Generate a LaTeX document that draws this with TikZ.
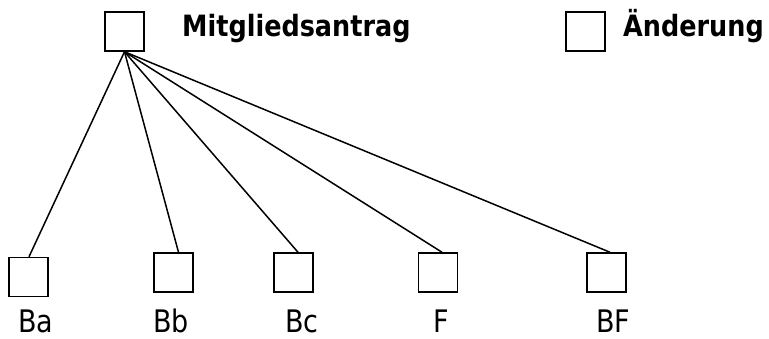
\documentclass[tikz,border=0pt]{standalone}
\usepackage{fontspec}
\usepackage{graphicx}
\setmainfont{DejaVu Sans}
\newcommand{\tallt}[1]{\scalebox{1}[1.15]{#1}}
\begin{document}
\begin{tikzpicture}[x=1pt,y=-1pt,
  box/.style={draw,line width=1.5pt,minimum size=39pt,inner sep=0pt},
  lbl/.style={anchor=base west,inner sep=0pt,font=\fontsize{27}{30}\selectfont},
  title/.style={anchor=base west,inner sep=0pt,font=\fontsize{25.5}{28}\selectfont\bfseries},
  link/.style={line width=1.5pt}]
\useasboundingbox (0,0) rectangle (769,338);
\node[box] (top) at (124.5,31.5) {};
\node[title] (tmit) at (182,36) {\tallt{Mitgliedsantrag}};
\node[box] (aend) at (585.5,31.5) {};
\node[title] (taend) at (623,36) {\tallt{Änderung}};
\node[box] (ba) at (28.5,277) {};
\node[box] (bb) at (173.5,272.5) {};
\node[box] (bc) at (293.5,272.5) {};
\node[box] (f) at (438,272.5) {};
\node[box] (bf) at (606.5,272.5) {};
\node[lbl] (lba) at (18,332) {\tallt{Ba}};
\node[lbl] (lbb) at (153,332) {\tallt{Bb}};
\node[lbl] (lbc) at (285,332) {\tallt{Bc}};
\node[lbl] (lf) at (433,332) {\tallt{F}};
\node[lbl] (lbf) at (596,332) {\tallt{BF}};
\draw[link] (top.south) -- ([xshift=0.5pt]ba.north);
\draw[link] (top.south) -- ([xshift=5pt]bb.north);
\draw[link] (top.south) -- ([xshift=4.5pt]bc.north);
\draw[link] (top.south) -- ([xshift=4pt]f.north);
\draw[link] (top.south) -- ([xshift=3.5pt]bf.north);
\end{tikzpicture}
\end{document}
